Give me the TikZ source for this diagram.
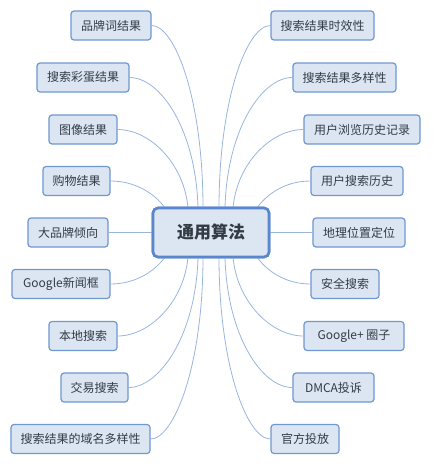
\documentclass[tikz,border=0pt]{standalone}
\usepackage{fontspec}
\setmainfont{Noto Sans CJK SC}
\definecolor{boxfill}{HTML}{DCE6F2}
\definecolor{boxline}{HTML}{6F97D0}
\definecolor{mainline}{HTML}{5A87CB}
\definecolor{conn}{HTML}{98B5DE}
\definecolor{txt}{HTML}{333B45}
\tikzset{
  leaf/.style={draw=boxline, line width=1.2pt, fill=boxfill, rounded corners=3pt,
    minimum height=29pt, inner xsep=2pt, inner ysep=0pt, text=txt,
    font=\fontsize{12}{14}\selectfont},
  root/.style={draw=mainline, line width=2.6pt, fill=boxfill, rounded corners=5pt,
    minimum width=116pt, minimum height=49pt, text=txt,
    font=\fontsize{17}{20}\selectfont\bfseries},
  link/.style={draw=conn, line width=0.8pt}
}
\begin{document}
\begin{tikzpicture}[x=1pt,y=-1pt]
\useasboundingbox (0,0) rectangle (432,466);
% connectors first (drawn under the boxes)
\coordinate (cc) at (211,232.5);
\foreach \n/\d in {1/-8,2/-13,3/-23,4/-46}{
  \coordinate (tl\n) at ([xshift=\d pt]211,208);
  \coordinate (bl\n) at ([xshift=\d pt]211,257);
}
\foreach \n/\d in {1/8,2/14,3/22,4/46}{
  \coordinate (tr\n) at ([xshift=\d pt]211,208);
  \coordinate (br\n) at ([xshift=\d pt]211,257);
}
\node[root] (c) at (cc) {通用算法};
% left
\node[leaf, minimum width=80pt]  (l1) at (111,25.5) {品牌词结果};
\node[leaf, minimum width=92pt]  (l2) at (83,77.5) {搜索彩蛋结果};
\node[leaf, minimum width=68pt]  (l3) at (83,129.5) {图像结果};
\node[leaf, minimum width=67pt]  (l4) at (76.5,181) {购物结果};
\node[leaf, minimum width=80pt]  (l5) at (68,232.5) {大品牌倾向};
\node[leaf, minimum width=98pt]  (l6) at (61,284) {Google新闻框};
\node[leaf, minimum width=68pt]  (l7) at (83,336) {本地搜索};
\node[leaf, minimum width=67pt]  (l8) at (94.5,387.5) {交易搜索};
\node[leaf, minimum width=139pt] (l9) at (80.5,439) {搜索结果的域名多样性};
% right
\node[leaf, minimum width=103pt] (r1) at (322.5,25.5) {搜索结果时效性};
\node[leaf, minimum width=103pt] (r2) at (344.5,77.5) {搜索结果多样性};
\node[leaf, minimum width=116pt] (r3) at (362,129.5) {用户浏览历史记录};
\node[leaf, minimum width=92pt]  (r4) at (357,181) {用户搜索历史};
\node[leaf, minimum width=92pt]  (r5) at (359,232.5) {地理位置定位};
\node[leaf, minimum width=68pt]  (r6) at (345,284) {安全搜索};
\node[leaf, minimum width=100pt] (r7) at (354,336) {Google+ 圈子};
\node[leaf, minimum width=81pt]  (r8) at (333.5,387.5) {DMCA投诉};
\node[leaf, minimum width=68pt]  (r9) at (305,439) {官方投放};
% left connectors
\draw[link] (tl1) .. controls +(0,-110) and +(23,0) .. (l1.east);
\draw[link] (tl2) .. controls +(-2,-78) and +(31,0) .. (l2.east);
\draw[link] (tl3) .. controls +(-4,-45) and +(32,0) .. (l3.east);
\draw[link] (tl4) .. controls +(-9,-13) and +(26,0) .. (l4.east);
\draw[link] (c.west) -- (l5.east);
\draw[link] (bl4) .. controls +(-9,13) and +(26,0) .. (l6.east);
\draw[link] (bl3) .. controls +(-4,45) and +(32,0) .. (l7.east);
\draw[link] (bl2) .. controls +(-2,78) and +(31,0) .. (l8.east);
\draw[link] (bl1) .. controls +(0,110) and +(23,0) .. (l9.east);
% right connectors
\draw[link] (tr1) .. controls +(0,-110) and +(-23,0) .. (r1.west);
\draw[link] (tr2) .. controls +(2,-78) and +(-31,0) .. (r2.west);
\draw[link] (tr3) .. controls +(4,-45) and +(-32,0) .. (r3.west);
\draw[link] (tr4) .. controls +(9,-13) and +(-26,0) .. (r4.west);
\draw[link] (c.east) -- (r5.west);
\draw[link] (br4) .. controls +(9,13) and +(-26,0) .. (r6.west);
\draw[link] (br3) .. controls +(4,45) and +(-32,0) .. (r7.west);
\draw[link] (br2) .. controls +(2,78) and +(-31,0) .. (r8.west);
\draw[link] (br1) .. controls +(0,110) and +(-23,0) .. (r9.west);
% redraw root on top so line ends sit under its border
\node[root] at (cc) {通用算法};
\end{tikzpicture}
\end{document}
